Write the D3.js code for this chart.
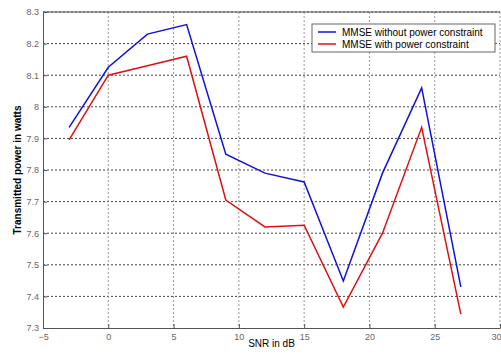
<!DOCTYPE html>
<html><head><meta charset="utf-8">
<script src="https://cdn.jsdelivr.net/npm/d3@7"></script>
<style>body{margin:0;background:#fff}svg{display:block}text{font-family:"Liberation Sans",Arial,sans-serif}</style>
</head><body><svg id="c" width="501" height="356"></svg>
<script>
const snr = [-3,0,3,6,9,12,15,18,21,24,27];
const withoutConstraint = [7.935,8.125,8.23,8.26,7.85,7.79,7.762,7.449,7.79,8.06,7.43];
const withConstraint = [7.895,8.10,8.13,8.16,7.705,7.62,7.625,7.366,7.60,7.935,7.344];
const seriesNames = ["MMSE without power constraint","MMSE with power constraint"];
const colors = ["#1010e0","#e01010"];
const xTicks = [-5,0,5,10,15,20,25,30];
const yTicks = [7.3,7.4,7.5,7.6,7.7,7.8,7.9,8,8.1,8.2,8.3];

const svg = d3.select("#c");
const L=43,R=500,T=12,B=328;
const x = d3.scaleLinear().domain([-5,30]).range([L,R]);
const y = d3.scaleLinear().domain([7.3,8.3]).range([B,T]);

// grid
svg.append("g").selectAll("line").data(yTicks.slice(1)).join("line")
  .attr("x1",L).attr("x2",R).attr("y1",d=>y(d)).attr("y2",d=>y(d))
  .attr("stroke","#444").attr("stroke-width",1).attr("stroke-dasharray","2,2");
svg.append("g").selectAll("line").data(xTicks.slice(1)).join("line")
  .attr("y1",T).attr("y2",B).attr("x1",d=>x(d)).attr("x2",d=>x(d))
  .attr("stroke","#999").attr("stroke-width",1).attr("stroke-dasharray","2,2");

// axes
const ax = svg.append("g").attr("transform",`translate(0,${B})`)
  .call(d3.axisBottom(x).tickValues(xTicks).tickSize(-4).tickPadding(6).tickFormat(d3.format("d")));
const ay = svg.append("g").attr("transform",`translate(${L},0)`)
  .call(d3.axisLeft(y).tickValues(yTicks).tickSize(-4).tickPadding(4).tickFormat(d=>d3.format("")(+d.toFixed(1))));
[ax,ay].forEach(g=>{
  g.select(".domain").attr("stroke","#555");
  g.selectAll(".tick line").attr("stroke","#555");
  g.selectAll("text").attr("fill","#666").style("font-size","9px").style("font-family",'"Liberation Sans",Arial,sans-serif');
});
// keep the last x tick label inside the window
ax.selectAll(".tick").filter(d=>d===30).select("text").attr("text-anchor","end").attr("dx","1");
// top border line
svg.append("line").attr("x1",L).attr("x2",R).attr("y1",T).attr("y2",T).attr("stroke","#555");

// lines
const line = d3.line().x((d,i)=>x(snr[i])).y(d=>y(d));
[withoutConstraint,withConstraint].forEach((s,k)=>{
  svg.append("path").datum(s).attr("d",line).attr("fill","none")
    .attr("stroke",colors[k]).attr("stroke-width",1.5);
});

// legend
const lg = svg.append("g");
lg.append("rect").attr("x",312).attr("y",24).attr("width",183).attr("height",28)
  .attr("fill","#fff").attr("stroke","#666");
seriesNames.forEach((n,i)=>{
  const yy = 32+i*12;
  lg.append("line").attr("x1",318).attr("x2",336).attr("y1",yy).attr("y2",yy)
    .attr("stroke",colors[i]).attr("stroke-width",1.5);
  lg.append("text").attr("x",342).attr("y",yy+3.5).text(n)
    .style("font-size","10px").attr("fill","#000");
});

// labels
svg.append("text").attr("x",(L+R)/2).attr("y",347).attr("text-anchor","middle")
  .style("font-size","10px").text("SNR in dB");
svg.append("text").attr("transform",`translate(21,${(T+B)/2}) rotate(-90)`)
  .attr("text-anchor","middle").style("font-size","10px").style("font-weight","bold")
  .text("Transmitted power in watts");
</script></body></html>
